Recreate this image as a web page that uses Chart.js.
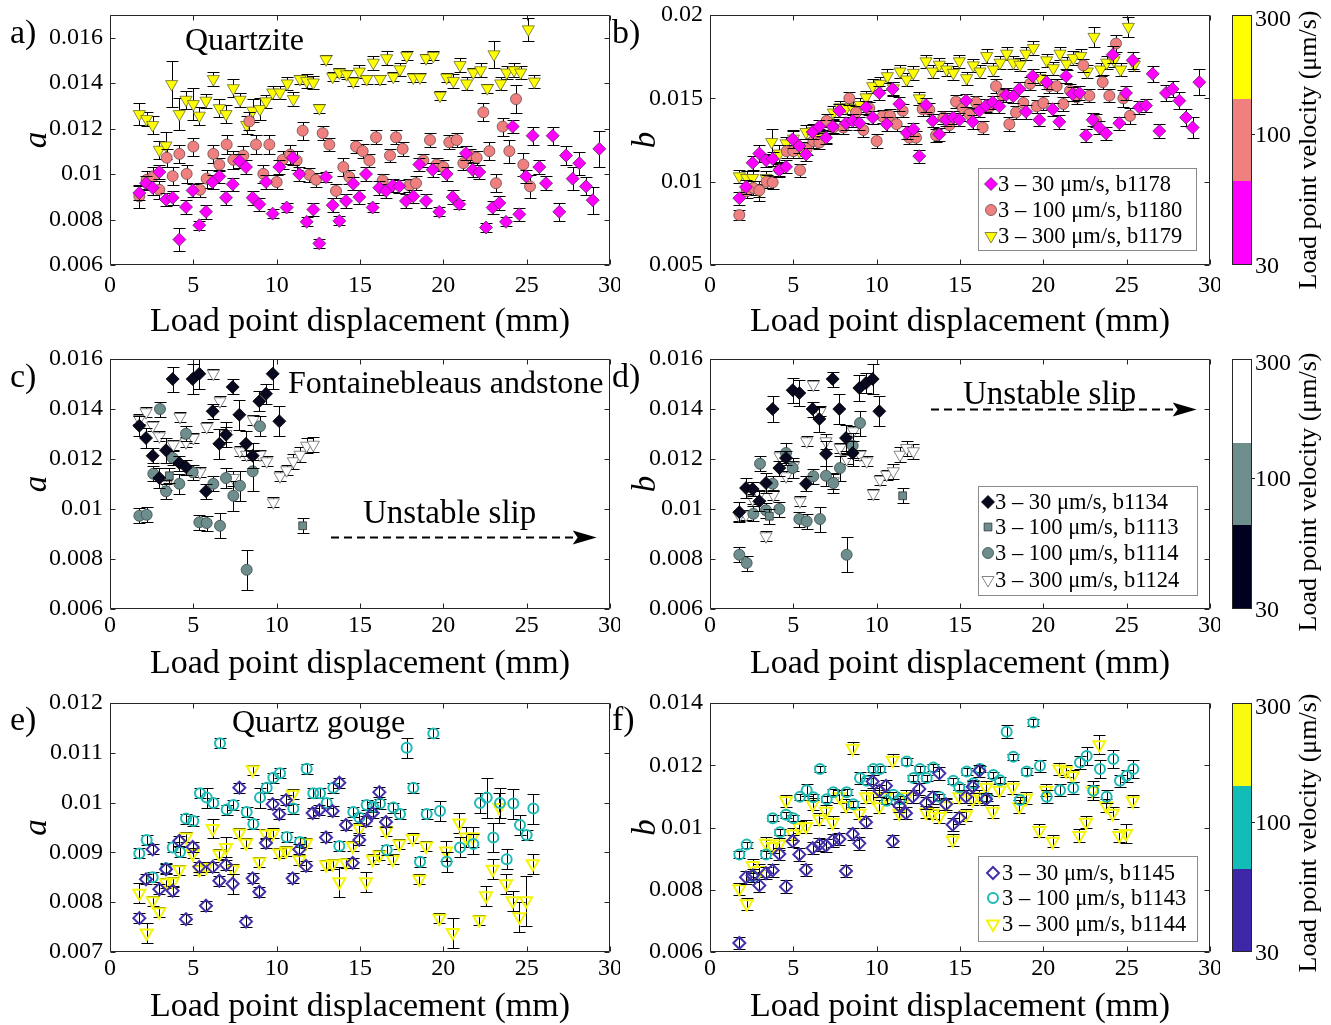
<!DOCTYPE html>
<html><head><meta charset="utf-8"><title>Friction parameters a and b vs load point displacement</title>
<script src="https://cdn.jsdelivr.net/npm/chart.js@4.4.1/dist/chart.umd.min.js"></script>
<style>
html,body{margin:0;padding:0;background:#fff}
body{position:relative;width:1331px;height:1025px;overflow:hidden;font-family:"Liberation Serif","Times New Roman",serif;color:#000}
canvas{position:absolute}
.t{position:absolute;white-space:nowrap;line-height:1}
.cb{position:absolute;box-sizing:border-box;border:1px solid #262626;display:flex;flex-direction:column}
.cb div{flex:1}
.cbt{position:absolute;width:3px;height:1px;background:#262626}
</style></head><body>
<script>
// ---------------- axis ticks ----------------
const X_TICKS = [0, 5, 10, 15, 20, 25, 30];
const Y_TICKS_A_Q = [0.006, 0.008, 0.01, 0.012, 0.014, 0.016];
const Y_TICKS_B_Q = [0.005, 0.01, 0.015, 0.02];
const Y_TICKS_A_F = [0.006, 0.008, 0.01, 0.012, 0.014, 0.016];
const Y_TICKS_B_F = [0.006, 0.008, 0.01, 0.012, 0.014, 0.016];
const Y_TICKS_A_G = [0.007, 0.008, 0.009, 0.01, 0.011, 0.012];
const Y_TICKS_B_G = [0.006, 0.008, 0.01, 0.012, 0.014];
const CB_TICKS = [30, 100, 300];

// ---------------- Quartzite (a, b) ----------------
const Q30_X = [1.76,2.16,2.56,2.96,3.36,3.76,4.16,4.56,4.96,5.36,5.76,6.16,6.56,6.96,7.36,7.76,8.16,8.56,8.96,9.36,9.76,10.16,10.6,10.96,11.36,11.8,12.2,12.56,12.96,13.36,13.76,14.16,14.6,14.96,15.36,15.76,16.16,16.56,16.96,17.36,17.76,18.2,18.56,18.96,19.36,19.76,20.2,20.56,20.96,21.36,21.76,22.16,22.56,22.96,23.36,23.76,24.16,24.56,24.96,25.36,25.76,26.16,26.56,26.96,27.36,27.76,28.16,28.56,28.96,29.36];
const Q30_A = [0.00917,0.0096,0.0094,0.01009,0.00888,0.00896,0.00712,0.00855,0.00928,0.00775,0.00834,0.00965,0.0099,0.00896,0.00955,0.01057,0.01031,0.00896,0.00867,0.00965,0.00826,0.01031,0.00853,0.01072,0.01,0.0079,0.00844,0.00695,0.00987,0.00863,0.00794,0.00882,0.00958,0.00899,0.01,0.00853,0.0094,0.00926,0.0095,0.00946,0.00882,0.00902,0.01042,0.00882,0.01019,0.00834,0.01,0.00899,0.00867,0.01092,0.01019,0.01009,0.00765,0.00853,0.00873,0.0079,0.01209,0.00823,0.0099,0.01169,0.01031,0.0096,0.01169,0.00834,0.01082,0.0098,0.01048,0.00946,0.00885,0.01111];
const Q30_A_ERR = [3,3,3,3,3,3,5,3,3,2,3,3,3,3,3,3,3,3,3,3,2,3,2,3,3,2,3,2,2,3,2,3,3,3,3,2,3,3,3,3,3,3,3,3,3,2,3,3,2,3,3,3,2,3,3,2,3,3,3,4,3,3,4,4,4,5,5,4,6,8];
const Q30_B = [0.00901,0.00968,0.01113,0.01169,0.01129,0.01137,0.01069,0.01089,0.01254,0.01214,0.01163,0.01298,0.01331,0.01264,0.01331,0.01425,0.01351,0.01365,0.01351,0.01446,0.01385,0.01532,0.01345,0.01556,0.01466,0.01294,0.01315,0.01153,0.0146,0.01365,0.01284,0.01371,0.01385,0.01371,0.01486,0.01359,0.01425,0.01456,0.01476,0.01452,0.0152,0.01512,0.01556,0.01419,0.01633,0.01371,0.01597,0.01435,0.01359,0.01633,0.01526,0.01532,0.01278,0.01371,0.01325,0.0129,0.01762,0.01351,0.01532,0.01728,0.01446,0.01456,0.01647,0.01304,0.01532,0.01556,0.01486,0.01385,0.01325,0.01597];
const Q30_B_ERR = [4,4,4,5,4,4,4,4,5,4,4,4,4,4,4,4,4,4,4,4,4,4,4,4,4,4,4,4,4,4,4,4,4,4,4,4,4,4,4,4,4,4,4,4,4,4,4,4,4,4,4,4,4,4,4,4,5,4,4,5,4,4,5,4,5,5,5,5,6,8];

const Q100_X = [1.76,2.2,2.6,2.96,3.4,3.76,4.16,4.6,5.0,5.4,5.8,6.2,6.56,7.0,7.4,8.0,8.36,8.76,9.2,9.56,10.0,10.36,10.8,11.2,11.56,11.96,12.36,12.76,13.16,13.56,14.0,14.36,14.76,15.16,15.56,15.96,16.36,16.8,17.16,17.56,17.96,18.36,18.8,19.2,19.6,20.0,20.36,20.8,21.2,21.6,22.0,22.4,22.76,23.16,23.56,23.96,24.36,24.8,25.2];
const Q100_A = [0.00902,0.00975,0.0099,0.00931,0.01072,0.00991,0.01089,0.01001,0.01121,0.00931,0.0098,0.01089,0.01042,0.0113,0.01063,0.01082,0.01232,0.0113,0.01001,0.0113,0.00965,0.01063,0.01086,0.0106,0.01191,0.00997,0.00975,0.0118,0.0113,0.00926,0.01031,0.00987,0.01121,0.01101,0.0106,0.01162,0.00972,0.01082,0.01162,0.01111,0.0095,0.0096,0.0106,0.0115,0.01042,0.01031,0.0114,0.0115,0.01048,0.01082,0.01072,0.01272,0.01101,0.0096,0.01209,0.01101,0.0133,0.01042,0.00946];
const Q100_A_ERR = [5,4,4,4,4,4,4,4,4,3,4,4,3,4,4,4,4,4,4,4,3,4,4,4,4,3,3,3,3,3,4,3,3,3,3,3,3,3,3,3,3,3,3,3,3,3,3,3,3,3,3,4,4,4,4,5,6,5,5];
const Q100_B = [0.008,0.00942,0.00962,0.00948,0.01,0.00996,0.01073,0.01183,0.01183,0.01069,0.01198,0.01244,0.01234,0.01365,0.01325,0.01325,0.015,0.01415,0.0131,0.0144,0.01244,0.01391,0.01395,0.01345,0.01425,0.01264,0.01264,0.01435,0.01431,0.01278,0.01385,0.01339,0.0148,0.0144,0.01405,0.01476,0.01325,0.01452,0.01573,0.01516,0.01345,0.01415,0.01472,0.01587,0.01452,0.01472,0.01573,0.01573,0.01466,0.01546,0.01506,0.01698,0.01516,0.01365,0.01597,0.01516,0.01829,0.015,0.01395];
const Q100_B_ERR = [3,4,4,4,4,4,4,4,4,4,4,4,4,4,4,4,4,4,4,4,4,4,4,4,4,4,4,4,4,4,4,4,4,4,4,4,4,4,4,4,4,4,4,4,4,4,4,4,4,4,4,4,4,4,4,4,5,5,5];

const Q300_X = [1.76,2.2,2.56,2.96,3.36,3.7,4.16,4.56,5.0,5.36,5.76,6.2,6.56,6.96,7.4,7.8,8.2,8.56,9.0,9.36,9.76,10.2,10.64,11.0,11.4,11.8,12.2,12.56,12.96,13.36,13.76,14.2,14.6,14.96,15.4,15.8,16.2,16.6,17.0,17.4,17.8,18.2,18.6,18.96,19.4,19.8,20.2,20.6,21.0,21.4,21.8,22.24,22.64,23.04,23.44,23.8,24.24,24.64,25.1,25.46];
const Q300_A = [0.01264,0.01242,0.01216,0.01107,0.01126,0.01396,0.01264,0.01327,0.01308,0.01257,0.01323,0.01418,0.0129,0.01264,0.01378,0.01327,0.01216,0.01279,0.01286,0.0132,0.01359,0.01359,0.01399,0.0133,0.01418,0.0141,0.01403,0.0129,0.01505,0.01428,0.01447,0.01439,0.01407,0.01451,0.01418,0.0149,0.01418,0.0151,0.01428,0.01461,0.0152,0.01425,0.01425,0.0151,0.0152,0.01345,0.01425,0.0141,0.0148,0.01399,0.01447,0.01457,0.01378,0.01527,0.01399,0.01447,0.01457,0.01447,0.01637,0.01407];
const Q300_A_ERR = [5,3,4,4,6,10,7,4,7,4,3,3,4,4,4,3,4,5,5,3,3,3,3,3,2,3,3,2,2,2,2,2,2,3,2,3,2,3,2,3,2,2,2,2,2,2,2,3,3,3,2,3,2,6,3,3,3,3,5,3];
const Q300_B = [0.01032,0.01022,0.01022,0.00942,0.01022,0.01238,0.01169,0.0123,0.01258,0.01183,0.01298,0.01304,0.01274,0.0127,0.01415,0.01446,0.01446,0.0144,0.0146,0.01506,0.01573,0.01587,0.01633,0.0156,0.01661,0.01613,0.01653,0.015,0.01722,0.01661,0.01702,0.01673,0.01653,0.01722,0.01621,0.01698,0.01661,0.01754,0.01673,0.01714,0.01768,0.01714,0.01702,0.01768,0.01802,0.01621,0.01728,0.01681,0.01768,0.01708,0.01742,0.01754,0.01661,0.01869,0.01673,0.01714,0.01728,0.01673,0.01929,0.01702];
const Q300_B_ERR = [4,4,4,6,4,8,5,4,5,4,4,4,4,4,4,4,4,4,4,4,4,4,4,4,4,4,4,4,4,4,4,4,4,4,4,4,4,4,4,4,4,4,4,4,4,4,4,4,4,4,4,4,4,6,4,4,4,4,6,4];

// ---------------- Fontainebleau sandstone (c, d) ----------------
const F1134_X = [1.76,2.16,2.56,2.96,3.36,3.76,4.16,4.56,4.96,5.36,5.76,6.16,6.56,6.96,7.36,7.76,8.16,8.56,8.96,9.36,9.76,10.16];
const F1134_A = [0.01333,0.01284,0.01213,0.01124,0.01235,0.0152,0.01184,0.01168,0.0152,0.01541,0.01071,0.01391,0.01261,0.01297,0.01488,0.01377,0.01261,0.01213,0.01431,0.01461,0.01541,0.01351];
const F1134_A_ERR = [4,4,3,4,5,5,3,3,6,6,3,3,6,5,3,6,5,5,4,4,6,6];
const F1134_B = [0.00987,0.01084,0.0108,0.01031,0.01104,0.014,0.01164,0.01204,0.01475,0.01464,0.01101,0.014,0.0136,0.01221,0.0152,0.014,0.01284,0.01224,0.01484,0.01504,0.0152,0.01391];
const F1134_B_ERR = [4,4,3,4,4,5,3,3,5,5,3,3,5,5,3,6,5,5,5,4,6,6];

const F1113_X = [3.56, 11.56];
const F1113_A = [0.01133, 0.00933];
const F1113_A_ERR = [3, 3];
const F1113_B = [0.00971, 0.01053];
const F1113_B_ERR = [3, 3];

const F1114_X = [1.76,2.2,2.6,3.0,3.36,3.76,4.16,4.56,4.96,5.36,5.8,6.2,6.6,6.96,7.4,7.8,8.2,8.56,9.0];
const F1114_A = [0.00973,0.00977,0.01141,0.014,0.01071,0.01204,0.01101,0.01301,0.01147,0.00947,0.00944,0.01101,0.00933,0.01124,0.01053,0.01093,0.00757,0.01151,0.01331];
const F1114_A_ERR = [3,3,3,3,3,3,4,3,3,3,3,3,5,4,6,6,8,8,4];
const F1114_B = [0.00817,0.00784,0.00981,0.01181,0.00995,0.01101,0.01,0.01224,0.01164,0.0096,0.00951,0.01131,0.0096,0.01133,0.01104,0.01164,0.00817,0.01253,0.01344];
const F1114_B_ERR = [3,3,3,3,3,3,3,4,4,3,3,3,5,4,4,5,7,5,5];

const F1124_X = [1.76,2.16,2.56,2.96,3.36,3.8,4.2,4.56,5.0,5.4,5.8,6.2,6.6,6.96,7.4,7.8,8.2,8.6,9.0,9.4,9.8,10.2,10.6,11.0,11.4,11.8,12.2];
const F1124_A = [0.0136,0.01387,0.01333,0.01291,0.01097,0.01257,0.01368,0.01267,0.01284,0.01147,0.01328,0.01541,0.01431,0.013,0.01124,0.01231,0.01217,0.01357,0.01217,0.01191,0.01027,0.01131,0.01155,0.01191,0.01217,0.01253,0.01257];
const F1124_A_ERR = [2,2,2,2,2,2,2,2,2,2,2,2,2,3,3,2,2,2,2,2,2,2,2,3,3,3,3];
const F1124_B = [0.00973,0.00977,0.0104,0.01057,0.00891,0.01057,0.01211,0.01131,0.01173,0.01031,0.01271,0.01497,0.01391,0.01271,0.01111,0.01244,0.012,0.01311,0.01217,0.01191,0.01061,0.01117,0.01137,0.01151,0.01217,0.01244,0.01231];
const F1124_B_ERR = [2,2,2,2,2,2,2,2,2,2,2,2,2,3,3,2,2,2,2,2,2,2,2,3,3,3,3];

// ---------------- Quartz gouge (e, f) ----------------
const G1145_X = [1.76,2.16,2.56,2.96,3.36,3.76,4.16,4.56,4.96,5.36,5.76,6.16,6.56,6.96,7.36,7.76,8.16,8.56,8.96,9.36,9.76,10.16,10.56,10.96,11.36,11.76,12.16,12.56,12.96,13.36,13.76,14.16,14.56,14.96,15.36,15.76,16.16,16.56];
const G1145_A = [0.00768,0.00846,0.00906,0.00826,0.00866,0.00823,0.00923,0.00766,0.00911,0.00871,0.00793,0.00871,0.00843,0.00875,0.00837,0.0103,0.00761,0.00848,0.00821,0.00919,0.00997,0.00977,0.01005,0.00848,0.00906,0.00873,0.00979,0.00985,0.0093,0.00983,0.0104,0.00955,0.00879,0.00925,0.00963,0.00979,0.01021,0.00961];
const G1145_A_ERR = [1,1,1,1,1,1,1,1,1,1,1,1,1,1,2,1,1,1,1,1,1,1,1,1,1,1,1,1,1,1,1,1,1,1,1,1,1,1];
const G1145_B = [0.00629,0.0084,0.00846,0.00814,0.00853,0.00862,0.00915,0.0081,0.00956,0.00913,0.00864,0.00934,0.00945,0.00942,0.00958,0.00963,0.0086,0.00979,0.00949,0.01017,0.01148,0.01118,0.01134,0.00956,0.0107,0.01046,0.01099,0.01124,0.01078,0.01097,0.01174,0.01075,0.01009,0.01031,0.01099,0.01131,0.01182,0.01091];
const G1145_B_ERR = [2,2,2,2,2,2,2,2,2,2,2,2,2,2,2,2,2,2,2,2,2,2,2,2,2,2,2,2,2,2,2,2,2,2,2,2,2,2];

const G1143_X = [1.76,2.2,2.56,3.36,3.76,4.2,4.56,5.0,5.4,5.8,6.2,6.6,7.0,7.4,8.2,8.6,9.0,9.4,9.8,10.2,10.6,11.0,11.4,11.8,12.2,12.6,13.0,13.4,13.76,14.6,14.96,15.4,15.8,16.2,16.6,17.0,17.4,17.8,18.2,18.6,19.0,19.4,19.8,20.2,21.0,21.8,22.2,22.6,23.0,23.4,23.8,24.2,24.6,25.0,25.4];
const G1143_A = [0.00898,0.00925,0.0085,0.00868,0.0091,0.00901,0.00968,0.00963,0.01019,0.0101,0.00999,0.01119,0.00986,0.00995,0.00981,0.00957,0.0101,0.0103,0.0105,0.01059,0.00931,0.00988,0.00921,0.01068,0.01019,0.01019,0.00999,0.0103,0.00913,0.00981,0.0097,0.00995,0.00991,0.00998,0.00905,0.0099,0.00977,0.0111,0.0103,0.00881,0.00977,0.01139,0.00983,0.00881,0.0091,0.00917,0.00999,0.0101,0.0093,0.00999,0.00886,0.00998,0.00955,0.00935,0.00988];
const G1143_A_ERR = [1,1,1,1,1,1,1,1,1,2,1,1,1,1,1,1,2,1,1,1,1,1,1,1,1,1,1,1,1,1,1,1,1,1,1,1,1,2,1,1,1,1,2,2,2,2,2,4,3,3,2,3,2,1,3];
const G1143_B = [0.00913,0.00945,0.00843,0.00913,0.0103,0.00985,0.01041,0.0103,0.01099,0.0112,0.01097,0.01188,0.01091,0.01113,0.01113,0.01075,0.01159,0.0115,0.01188,0.01188,0.01086,0.01105,0.01091,0.01212,0.01159,0.01188,0.01159,0.01193,0.01099,0.0115,0.01129,0.0118,0.01142,0.01188,0.01095,0.01169,0.01152,0.01308,0.01227,0.01088,0.0118,0.01337,0.01198,0.01099,0.0112,0.01127,0.01209,0.0123,0.01118,0.01188,0.01099,0.0122,0.0115,0.01166,0.01188];
const G1143_B_ERR = [1,1,1,1,1,1,1,1,1,2,1,1,1,1,1,1,2,1,1,1,1,1,1,1,1,1,1,1,1,1,1,1,1,1,1,1,1,2,1,1,1,1,2,2,2,2,2,3,3,3,2,3,2,2,3];

const G1144_X = [1.76,2.2,2.56,2.96,3.36,3.76,4.16,4.56,4.96,5.36,5.76,6.16,6.56,6.96,7.36,7.76,8.16,8.56,8.96,9.36,9.76,10.16,10.56,10.96,11.36,11.76,12.96,13.36,13.76,14.16,14.56,14.96,15.36,15.76,16.16,16.56,16.96,17.36,18.16,18.56,18.96,19.76,20.16,20.56,20.96,21.36,21.76,22.16,22.56,22.96,23.36,23.76,24.16,24.56,24.96,25.36];
const G1144_A = [0.00818,0.00738,0.00803,0.00781,0.00839,0.00841,0.00865,0.00931,0.00898,0.00865,0.0087,0.00948,0.00897,0.0091,0.00866,0.00939,0.00919,0.01066,0.00881,0.00937,0.00938,0.00899,0.00903,0.01017,0.00885,0.00919,0.00875,0.00877,0.00841,0.00879,0.00913,0.00948,0.00841,0.00886,0.00895,0.00943,0.00886,0.00917,0.00928,0.00846,0.00913,0.00768,0.00903,0.00739,0.00959,0.00931,0.00931,0.00765,0.00813,0.00866,0.0099,0.00837,0.00803,0.00771,0.00803,0.00877];
const G1144_A_ERR = [2,2,1,1,1,1,1,1,1,1,1,2,1,2,1,1,1,1,1,1,1,1,1,1,1,1,1,1,3,1,1,1,2,1,1,1,1,1,1,1,1,1,2,3,2,2,2,1,2,2,3,2,2,3,5,2];
const G1144_B = [0.00803,0.00755,0.00878,0.00862,0.00949,0.00939,0.00947,0.01086,0.00979,0.01001,0.01003,0.01075,0.01027,0.01052,0.01017,0.01099,0.0107,0.01255,0.01046,0.01099,0.01099,0.01067,0.01099,0.01216,0.01046,0.01099,0.01049,0.01046,0.01035,0.0107,0.0096,0.01099,0.01041,0.01091,0.01099,0.01129,0.01052,0.0112,0.01129,0.01067,0.01095,0.0099,0.0112,0.00956,0.01188,0.01182,0.01166,0.00974,0.01017,0.01118,0.01266,0.0107,0.01046,0.00974,0.00981,0.01086];
const G1144_B_ERR = [2,2,2,2,2,2,2,2,2,2,2,2,2,2,2,2,2,2,2,2,2,2,2,2,2,2,2,2,2,2,2,2,2,2,2,2,2,2,2,2,2,2,2,2,2,2,2,2,2,2,3,2,2,2,3,2];

// ---------------- styles ----------------
const FONT = '"Liberation Serif","Times New Roman",serif';
Chart.defaults.font.family = FONT;
Chart.defaults.color = '#000';

const ST = {
  qDia: {pointStyle:'rectRot', radius:6.5, rotation:0, bg:'#ff00ff', bc:'#5a2a5a', bw:0.8},
  qCir: {pointStyle:'circle', radius:5.5, rotation:0, bg:'#f08080', bc:'#6a4a4a', bw:0.8},
  qTri: {pointStyle:'triangle', radius:7, rotation:180, bg:'#ffff00', bc:'#6a6a30', bw:0.8},
  fDia: {pointStyle:'rectRot', radius:6.5, rotation:0, bg:'#080820', bc:'#000000', bw:0.8},
  fSq:  {pointStyle:'rect', radius:5.5, rotation:0, bg:'#6e8e8e', bc:'#333333', bw:0.8},
  fCir: {pointStyle:'circle', radius:5.5, rotation:0, bg:'#6e8e8e', bc:'#3a4a4a', bw:0.8},
  fTri: {pointStyle:'triangle', radius:7, rotation:180, bg:'#ffffff', bc:'#666666', bw:0.8},
  gDia: {pointStyle:'rectRot', radius:6, rotation:0, bg:'rgba(0,0,0,0)', bc:'#4430aa', bw:2},
  gCir: {pointStyle:'circle', radius:5, rotation:0, bg:'rgba(0,0,0,0)', bc:'#1bbab5', bw:2},
  gTri: {pointStyle:'triangle', radius:7, rotation:180, bg:'rgba(0,0,0,0)', bc:'#f5f50a', bw:2}
};

function ds(label, xs, ys, errs, st) {
  return {
    label: label,
    data: xs.map((x, i) => ({x: x, y: ys[i]})),
    err: errs.map(e => e * 1e-4),
    st: st,
    pointStyle: st.pointStyle, pointRadius: st.radius, pointRotation: st.rotation,
    pointBackgroundColor: st.bg, pointBorderColor: st.bc, pointBorderWidth: st.bw,
    backgroundColor: st.bg, borderColor: st.bc
  };
}

const LEG = ' \u03bcm/s, ';
const PANELS = [
  {id:'pa', left:0, top:0, w:620, h:340, padTop:15, xh:75, tickPad:6, yMin:0.006, yMax:0.017, yTicks:Y_TICKS_A_Q, yTitle:'a', yTitlePad:18,
   sets:[ds('3 \u2013 30'+LEG+'b1178', Q30_X, Q30_A, Q30_A_ERR, ST.qDia), ds('3 \u2013 100'+LEG+'b1180', Q100_X, Q100_A, Q100_A_ERR, ST.qCir), ds('3 \u2013 300'+LEG+'b1179', Q300_X, Q300_A, Q300_A_ERR, ST.qTri)]},
  {id:'pb', left:600, top:0, w:620, h:340, padTop:15, xh:75, tickPad:6, yMin:0.005, yMax:0.02, yTicks:Y_TICKS_B_Q, yTitle:'b', yTitlePad:27,
   sets:[ds('3 \u2013 30'+LEG+'b1178', Q30_X, Q30_B, Q30_B_ERR, ST.qDia), ds('3 \u2013 100'+LEG+'b1180', Q100_X, Q100_B, Q100_B_ERR, ST.qCir), ds('3 \u2013 300'+LEG+'b1179', Q300_X, Q300_B, Q300_B_ERR, ST.qTri)],
   legend:{x:378, y:168, w:218, h:82, mx:13, tx:20, rows:[16,42,68]}},
  {id:'pc', left:0, top:340, w:620, h:342, padTop:19, xh:73, tickPad:2, yMin:0.006, yMax:0.016, yTicks:Y_TICKS_A_F, yTitle:'a', yTitlePad:18,
   sets:[ds('3 \u2013 30'+LEG+'b1134', F1134_X, F1134_A, F1134_A_ERR, ST.fDia), ds('3 \u2013 100'+LEG+'b1113', F1113_X, F1113_A, F1113_A_ERR, ST.fSq), ds('3 \u2013 100'+LEG+'b1114', F1114_X, F1114_A, F1114_A_ERR, ST.fCir), ds('3 \u2013 300'+LEG+'b1124', F1124_X, F1124_A, F1124_A_ERR, ST.fTri)],
   arrow:{x0:13.26, x1:29.2, y:0.00888}},
  {id:'pd', left:600, top:340, w:620, h:342, padTop:19, xh:73, tickPad:2, yMin:0.006, yMax:0.016, yTicks:Y_TICKS_B_F, yTitle:'b', yTitlePad:27,
   sets:[ds('3 \u2013 30'+LEG+'b1134', F1134_X, F1134_B, F1134_B_ERR, ST.fDia), ds('3 \u2013 100'+LEG+'b1113', F1113_X, F1113_B, F1113_B_ERR, ST.fSq), ds('3 \u2013 100'+LEG+'b1114', F1114_X, F1114_B, F1114_B_ERR, ST.fCir), ds('3 \u2013 300'+LEG+'b1124', F1124_X, F1124_B, F1124_B_ERR, ST.fTri)],
   legend:{x:378, y:146, w:219, h:109, mx:10, tx:17, rows:[16,41,67,94]},
   arrow:{x0:13.26, x1:29.2, y:0.014}},
  {id:'pe', left:0, top:680, w:620, h:345, padTop:23, xh:73, tickPad:2, yMin:0.007, yMax:0.012, yTicks:Y_TICKS_A_G, yTitle:'a', yTitlePad:18,
   sets:[ds('3 \u2013 30'+LEG+'b1145', G1145_X, G1145_A, G1145_A_ERR, ST.gDia), ds('3 \u2013 100'+LEG+'b1143', G1143_X, G1143_A, G1143_A_ERR, ST.gCir), ds('3 \u2013 300'+LEG+'b1144', G1144_X, G1144_A, G1144_A_ERR, ST.gTri)]},
  {id:'pf', left:600, top:680, w:620, h:345, padTop:23, xh:73, tickPad:2, yMin:0.006, yMax:0.014, yTicks:Y_TICKS_B_G, yTitle:'b', yTitlePad:27,
   sets:[ds('3 \u2013 30'+LEG+'b1145', G1145_X, G1145_B, G1145_B_ERR, ST.gDia), ds('3 \u2013 100'+LEG+'b1143', G1143_X, G1143_B, G1143_B_ERR, ST.gCir), ds('3 \u2013 300'+LEG+'b1144', G1144_X, G1144_B, G1144_B_ERR, ST.gTri)],
   legend:{x:378, y:176, w:219, h:85, mx:15, tx:24, rows:[17,42,68]}}
];
const EXTRA = {};

function drawMarker(ctx, st, x, y) {
  const r = st.radius;
  ctx.save();
  ctx.beginPath();
  if (st.pointStyle === 'circle') {
    ctx.arc(x, y, r, 0, Math.PI * 2);
  } else if (st.pointStyle === 'rectRot') {
    ctx.moveTo(x - r, y); ctx.lineTo(x, y - r); ctx.lineTo(x + r, y); ctx.lineTo(x, y + r); ctx.closePath();
  } else if (st.pointStyle === 'rect') {
    const s = r * Math.SQRT1_2; ctx.rect(x - s, y - s, 2 * s, 2 * s);
  } else {
    ctx.moveTo(x, y + r); ctx.lineTo(x - r * 0.866, y - r * 0.5); ctx.lineTo(x + r * 0.866, y - r * 0.5); ctx.closePath();
  }
  ctx.fillStyle = st.bg; ctx.fill();
  ctx.lineWidth = st.bw; ctx.strokeStyle = st.bc; ctx.stroke();
  ctx.restore();
}

const extraPlugin = {
  id: 'extra',
  beforeDatasetDraw(chart, args) {
    const d = chart.data.datasets[args.index];
    if (!d.err) return;
    const ctx = chart.ctx, ys = chart.scales.y, a = chart.chartArea;
    ctx.save();
    ctx.beginPath(); ctx.rect(a.left, a.top, a.right - a.left, a.bottom - a.top); ctx.clip();
    ctx.strokeStyle = '#000'; ctx.lineWidth = 1;
    ctx.beginPath();
    args.meta.data.forEach((pt, i) => {
      const v = d.data[i].y, e = d.err[i];
      const x = Math.round(pt.x) + 0.5;
      const y1 = Math.round(ys.getPixelForValue(v + e)) + 0.5;
      const y2 = Math.round(ys.getPixelForValue(v - e)) + 0.5;
      ctx.moveTo(x, y1); ctx.lineTo(x, y2);
      ctx.moveTo(x - 6, y1); ctx.lineTo(x + 6, y1);
      ctx.moveTo(x - 6, y2); ctx.lineTo(x + 6, y2);
    });
    ctx.stroke();
    ctx.restore();
  },
  afterDatasetsDraw(chart) {
    const ctx = chart.ctx, a = chart.chartArea;
    const L = Math.round(a.left) + 0.5, R = Math.round(a.right) - 0.5, T = Math.round(a.top) + 0.5, B = Math.round(a.bottom) - 0.5;
    ctx.save();
    ctx.strokeStyle = '#262626'; ctx.lineWidth = 1;
    ctx.beginPath();
    ctx.rect(L, T, R - L, B - T);
    chart.scales.x.ticks.forEach(t => {
      const x = Math.round(chart.scales.x.getPixelForValue(t.value)) + 0.5;
      ctx.moveTo(x, B); ctx.lineTo(x, B - 5);
      ctx.moveTo(x, T); ctx.lineTo(x, T + 5);
    });
    chart.scales.y.ticks.forEach(t => {
      const y = Math.round(chart.scales.y.getPixelForValue(t.value)) + 0.5;
      ctx.moveTo(L, y); ctx.lineTo(L + 5, y);
      ctx.moveTo(R, y); ctx.lineTo(R - 5, y);
    });
    ctx.stroke();
    ctx.restore();
  },
  afterDraw(chart) {
    const ex = EXTRA[chart.canvas.id];
    if (!ex) return;
    const ctx = chart.ctx;
    if (ex.arrow) {
      const A = ex.arrow, xs = chart.scales.x, ys = chart.scales.y;
      const x0 = xs.getPixelForValue(A.x0), x1 = xs.getPixelForValue(A.x1);
      const y = Math.round(ys.getPixelForValue(A.y)) + 0.5;
      ctx.save();
      ctx.strokeStyle = '#000'; ctx.lineWidth = 1.8; ctx.setLineDash([8, 5]);
      ctx.beginPath(); ctx.moveTo(x0, y); ctx.lineTo(x1 - 20, y); ctx.stroke();
      ctx.setLineDash([]); ctx.fillStyle = '#000';
      ctx.beginPath(); ctx.moveTo(x1, y); ctx.lineTo(x1 - 24, y - 7); ctx.lineTo(x1 - 19, y); ctx.lineTo(x1 - 24, y + 7); ctx.closePath(); ctx.fill();
      ctx.restore();
    }
    if (ex.legend) {
      const G = ex.legend;
      ctx.save();
      ctx.fillStyle = '#fff'; ctx.fillRect(G.x, G.y, G.w, G.h);
      ctx.strokeStyle = '#8a8a8a'; ctx.lineWidth = 1; ctx.strokeRect(G.x + 0.5, G.y + 0.5, G.w, G.h);
      ctx.font = '22.5px ' + FONT; ctx.textBaseline = 'middle'; ctx.textAlign = 'left';
      G.rows.forEach((dy, i) => {
        const d = chart.data.datasets[i];
        drawMarker(ctx, d.st, G.x + G.mx, G.y + dy);
        ctx.fillStyle = '#000';
        ctx.fillText(d.label, G.x + G.tx, G.y + dy + 1);
      });
      ctx.restore();
    }
  }
};

function fmtY(v) { return parseFloat(Number(v).toPrecision(6)).toString(); }

PANELS.forEach(p => {
  const cv = document.createElement('canvas');
  cv.id = p.id; cv.width = p.w; cv.height = p.h;
  cv.style.left = p.left + 'px'; cv.style.top = p.top + 'px';
  cv.style.width = p.w + 'px'; cv.style.height = p.h + 'px';
  document.body.appendChild(cv);
  EXTRA[p.id] = {legend: p.legend, arrow: p.arrow};
  new Chart(cv, {
    type: 'scatter',
    data: {datasets: p.sets},
    options: {
      responsive: false, animation: false, events: [], devicePixelRatio: 1,
      layout: {padding: {top: p.padTop, right: 10, bottom: 0, left: 0}},
      plugins: {legend: {display: false}, tooltip: {enabled: false}},
      scales: {
        x: {
          type: 'linear', min: 0, max: 30,
          grid: {display: false, drawTicks: false}, border: {display: false},
          afterBuildTicks: s => { s.ticks = X_TICKS.map(v => ({value: v})); },
          afterFit: s => { s.height = p.xh; s.paddingLeft = 0; s.paddingRight = 0; },
          ticks: {autoSkip: false, maxRotation: 0, minRotation: 0, padding: p.tickPad, color: '#000', font: {size: 24}, callback: v => String(v)},
          title: {display: true, text: 'Load point displacement (mm)', color: '#000', font: {size: 34}, padding: {top: 0, bottom: -2}}
        },
        y: {
          type: 'linear', min: p.yMin, max: p.yMax,
          grid: {display: false, drawTicks: false}, border: {display: false},
          afterBuildTicks: s => { s.ticks = p.yTicks.map(v => ({value: v})); },
          afterFit: s => { s.width = 110; s.paddingTop = 0; s.paddingBottom = 0; },
          ticks: {autoSkip: false, padding: 7, color: '#000', font: {size: 24}, callback: v => fmtY(v)},
          title: {display: true, text: p.yTitle, color: '#000', font: {size: 33, style: 'italic'}, padding: {top: p.yTitlePad, bottom: 0}}
        }
      }
    },
    plugins: [extraPlugin]
  });
});

// ---------------- text labels ----------------
const TEXTS = [
  ['a)', 10, 43, 34], ['b)', 612, 43, 34], ['c)', 10, 387, 34], ['d)', 612, 387, 34], ['e)', 10, 730, 34], ['f)', 612, 730, 34],
  ['Quartzite', 185, 50, 32], ['Fontainebleaus andstone', 288, 393, 32],
  ['Unstable slip', 363, 524, 33], ['Unstable slip', 963, 405, 33], ['Quartz gouge', 232, 732, 32]
];
TEXTS.forEach(t => {
  const d = document.createElement('div');
  d.className = 't'; d.textContent = t[0];
  d.style.fontSize = t[3] + 'px';
  d.style.left = t[1] + 'px';
  d.style.top = (t[2] - 0.8375 * t[3]) + 'px';
  document.body.appendChild(d);
});

// ---------------- colorbars ----------------
const COLORBARS = [
  {top:15, h:250, colors:['#ffff00', '#f08080', '#ff00ff'], titleY:150},
  {top:359, h:250, colors:['#ffffff', '#6e8e8e', '#000020'], titleY:492},
  {top:703, h:249, colors:['#f9fb0e', '#13bdb7', '#3e26a8'], titleY:833}
];
COLORBARS.forEach(c => {
  const bar = document.createElement('div');
  bar.className = 'cb';
  bar.style.left = '1232px'; bar.style.top = c.top + 'px'; bar.style.width = '20px'; bar.style.height = c.h + 'px';
  c.colors.forEach(col => { const s = document.createElement('div'); s.style.background = col; bar.appendChild(s); });
  document.body.appendChild(bar);
  const lmin = Math.log10(CB_TICKS[0]), lmax = Math.log10(CB_TICKS[CB_TICKS.length - 1]);
  CB_TICKS.forEach((v, i) => {
    let y = c.top + c.h - (Math.log10(v) - lmin) / (lmax - lmin) * c.h;
    if (i === CB_TICKS.length - 1) y += 3;
    const d = document.createElement('div');
    d.className = 't'; d.textContent = String(v); d.style.fontSize = '24px';
    d.style.left = '1255px'; d.style.top = (y - 12) + 'px';
    document.body.appendChild(d);
    if (i > 0 && i < CB_TICKS.length - 1) {
      const tk = document.createElement('div'); tk.className = 'cbt';
      tk.style.left = '1252px'; tk.style.top = Math.round(y) + 'px';
      document.body.appendChild(tk);
    }
  });
  const tt = document.createElement('div');
  tt.className = 't'; tt.textContent = 'Load point velocity (\u03bcm/s)'; tt.style.fontSize = '26px';
  tt.style.left = '1308px'; tt.style.top = c.titleY + 'px';
  tt.style.transform = 'translate(-50%,-50%) rotate(-90deg)';
  document.body.appendChild(tt);
});
</script>
</body></html>
